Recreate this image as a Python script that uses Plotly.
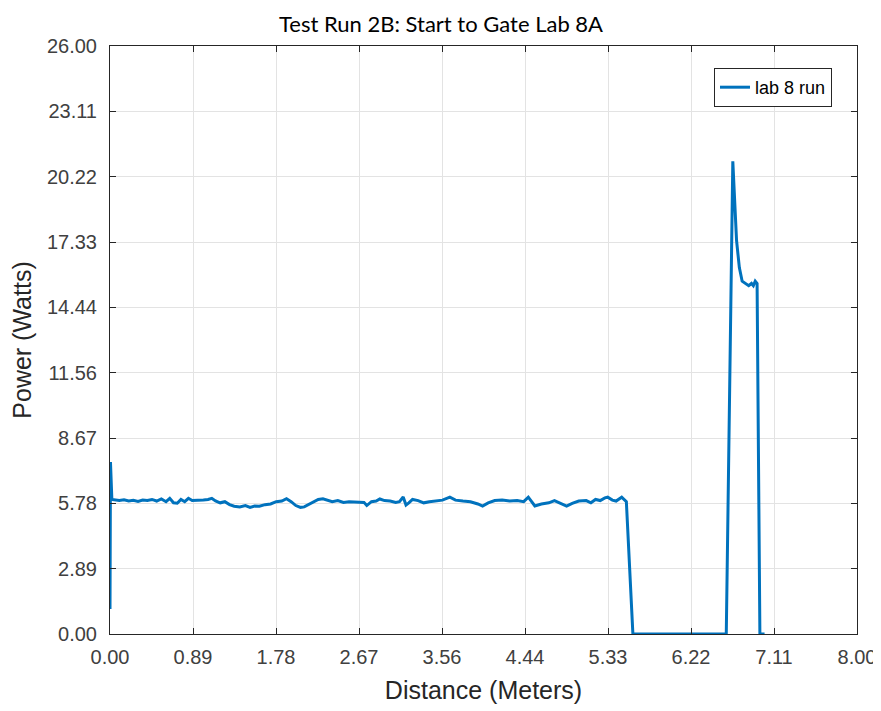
import plotly.graph_objects as go

distance = [0.00, 0.00, 0.005, 0.02, 0.05, 0.10, 0.15, 0.20, 0.25, 0.30, 0.35, 0.40, 0.45, 0.50, 0.55, 0.60,
            0.64, 0.68, 0.72, 0.76, 0.80, 0.84, 0.88, 0.92, 1.00, 1.05, 1.09, 1.13, 1.18, 1.23, 1.28, 1.33,
            1.39, 1.45, 1.50, 1.55, 1.60, 1.66, 1.72, 1.78, 1.84, 1.89, 1.94, 1.99, 2.04, 2.08, 2.12, 2.18,
            2.23, 2.28, 2.33, 2.38, 2.44, 2.50, 2.56, 2.62, 2.68, 2.72, 2.75, 2.80, 2.85, 2.89, 2.94, 3.00,
            3.06, 3.10, 3.14, 3.17, 3.20, 3.24, 3.30, 3.36, 3.42, 3.50, 3.56, 3.64, 3.70, 3.78, 3.86, 3.94,
            3.99, 4.05, 4.12, 4.20, 4.28, 4.36, 4.43, 4.48, 4.52, 4.55, 4.62, 4.70, 4.76, 4.82, 4.89, 4.95,
            5.02, 5.10, 5.15, 5.20, 5.25, 5.30, 5.33, 5.38, 5.42, 5.48, 5.53, 5.60, 6.60, 6.67, 6.71, 6.74,
            6.77, 6.84, 6.87, 6.89, 6.91, 6.93, 6.96, 7.01]
power = [5.90, 1.10, 7.60, 5.95, 5.92, 5.90, 5.93, 5.88, 5.91, 5.86, 5.92, 5.90, 5.95, 5.88, 5.97, 5.85,
         6.00, 5.80, 5.78, 5.95, 5.85, 6.00, 5.90, 5.92, 5.93, 5.95, 6.00, 5.88, 5.80, 5.85, 5.72, 5.65,
         5.62, 5.68, 5.60, 5.66, 5.65, 5.72, 5.75, 5.85, 5.88, 5.98, 5.85, 5.68, 5.60, 5.62, 5.70, 5.85,
         5.95, 5.98, 5.92, 5.85, 5.90, 5.82, 5.85, 5.83, 5.80, 5.82, 5.68, 5.85, 5.88, 5.97, 5.90, 5.88,
         5.82, 5.85, 6.06, 5.70, 5.80, 5.95, 5.90, 5.80, 5.85, 5.88, 5.92, 6.05, 5.92, 5.88, 5.85, 5.75,
         5.66, 5.80, 5.90, 5.92, 5.88, 5.90, 5.85, 6.05, 5.85, 5.66, 5.75, 5.80, 5.90, 5.78, 5.66, 5.78,
         5.88, 5.90, 5.80, 5.95, 5.90, 6.02, 6.05, 5.92, 5.88, 6.05, 5.85, 0.00, 0.00, 20.90, 17.40, 16.20,
         15.60, 15.40, 15.50, 15.40, 15.60, 15.50, 0.00, 0.00]

x_ticks = [i * 8 / 9 for i in range(10)]
y_ticks = [i * 26 / 9 for i in range(10)]
x_ticktext = ["%.2f" % v for v in x_ticks]
y_ticktext = ["%.2f" % v for v in y_ticks]

axis_font = "Liberation Sans, Arial, sans-serif"
axcol = "#262626"
tickcol = "#404040"

fig = go.Figure()
fig.add_trace(go.Scatter(x=distance, y=power, mode="lines", name="lab 8 run",
                         line=dict(color="#0072BD", width=3)))

common = dict(showline=True, linecolor=axcol, linewidth=1, mirror="ticks",
              ticks="inside", ticklen=6, tickcolor=axcol, showgrid=True,
              gridcolor="#e3e3e3", gridwidth=1, zeroline=False, automargin=False,
              tickfont=dict(family=axis_font, size=20, color=tickcol))

fig.update_xaxes(range=[0, 8], tickvals=x_ticks, ticktext=x_ticktext, ticklabelstandoff=5,
                 title=dict(text="Distance (Meters)", font=dict(family=axis_font, size=25, color=axcol), standoff=14),
                 **common)
fig.update_yaxes(range=[0, 26], tickvals=y_ticks, ticktext=y_ticktext, ticklabelstandoff=8,
                 title=dict(text="Power (Watts)", font=dict(family=axis_font, size=25, color=axcol), standoff=10),
                 **common)

fig.update_layout(
    width=873, height=703,
    margin=dict(l=102, r=24, t=38, b=77, autoexpand=False),
    paper_bgcolor="white", plot_bgcolor="white",
    title=dict(text="Test Run 2B: Start to Gate Lab 8A", x=(441 - 8) / 873, xanchor="center",
               y=1 - 16 / 703, yanchor="middle",
               font=dict(family="Lato, Open Sans, sans-serif", size=22, color="black")),
    showlegend=True,
    legend=dict(x=0.9665, xanchor="right", y=0.9626, yanchor="top",
                bgcolor="white", bordercolor=axcol, borderwidth=1,
                font=dict(family=axis_font, size=18, color="black")),
)

fig.write_html("out.html")
